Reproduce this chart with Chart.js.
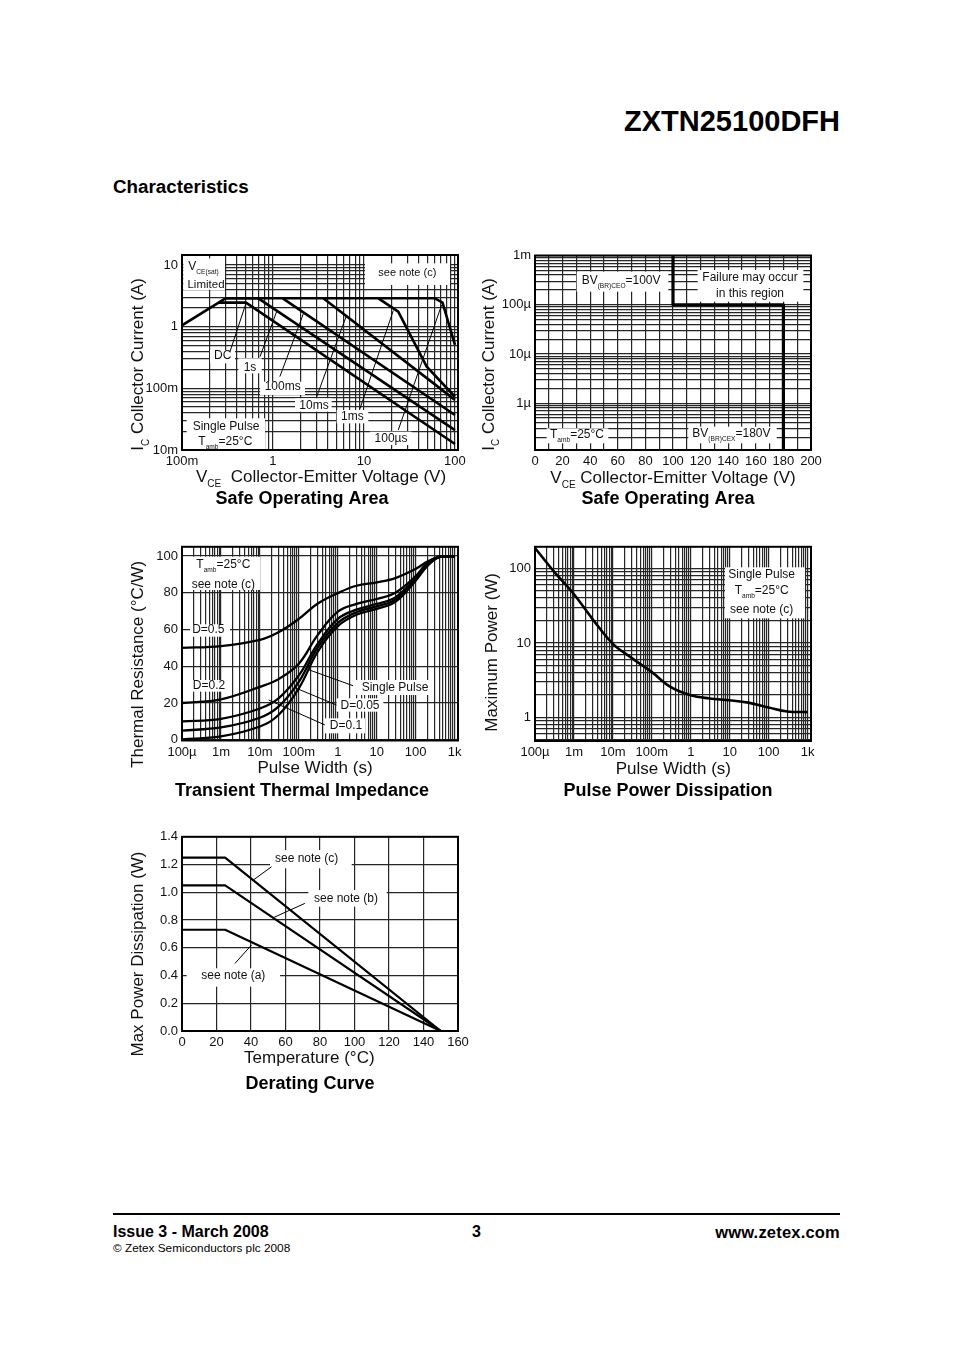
<!DOCTYPE html>
<html><head><meta charset="utf-8">
<style>
html,body{margin:0;padding:0;background:#fff;width:954px;height:1350px;overflow:hidden;font-family:"Liberation Sans",Arial,sans-serif;color:#000}
canvas{position:absolute;display:block}
.t{position:absolute;white-space:nowrap;line-height:1}
</style>
<script src="https://cdn.jsdelivr.net/npm/chart.js@4"></script>
</head><body>
<div class="t" style="right:114px;top:107px;font-size:29px;font-weight:bold">ZXTN25100DFH</div>
<div class="t" style="left:113px;top:178px;font-size:18.8px;font-weight:bold">Characteristics</div>
<div style="position:absolute;left:113px;top:1213px;width:727px;height:2px;background:#000"></div>
<div class="t" style="left:113px;top:1224px;font-size:16px;font-weight:bold">Issue 3 - March 2008</div>
<div class="t" style="left:472px;top:1224px;font-size:16px;font-weight:bold">3</div>
<div class="t" style="right:114px;top:1224px;font-size:16.5px;font-weight:bold;letter-spacing:.2px">www.zetex.com</div>
<div class="t" style="left:113px;top:1243px;font-size:11.8px">© Zetex Semiconductors plc 2008</div>
<canvas id="c1"></canvas><canvas id="c2"></canvas><canvas id="c3"></canvas><canvas id="c4"></canvas><canvas id="c5"></canvas>
<script>
// ---------- Safe Operating Area (V / A)
const soaXTickValues=[0.1,1,10,100], soaXTickLabels=['100m','1','10','100'];
const soaYTickValues=[0.01,0.1,1,10], soaYTickLabels=['10m','100m','1','10'];
const dcV=[0.1,0.253,0.505,100],          dcA=[1.05,2.45,2.45,0.0125];
const s1V=[0.253,0.30,0.69,100],          s1A=[2.45,2.88,2.88,0.021];
const ms100V=[0.30,1.28,100],             ms100A=[2.88,2.88,0.037];
const ms10V=[1.28,3.57,100],              ms10A=[2.88,2.88,0.065];
const ms1V=[3.57,14.4,23.8,48.9,100],     ms1A=[2.88,2.88,1.75,0.224,0.073];
const us100V=[14.4,60.3,73,100],          us100A=[2.88,2.88,2.45,0.505];
const soaLeaderV=[[0.505,0.337],[1.097,0.72],[2.15,1.19],[6.46,3.02],[21,9.04],[71.3,23.8]];
const soaLeaderA=[[2.39,0.394],[1.75,0.327],[1.6,0.155],[1.55,0.073],[1.82,0.047],[2.24,0.021]];
// ---------- Breakdown Safe Operating Area
const bvXTickLabels=['0','20','40','60','80','100','120','140','160','180','200'];
const bvYTickValues=[1e-6,1e-5,1e-4,1e-3], bvYTickLabels=['1µ','10µ','100µ','1m'];
const bvV=[100,100,180,180], bvA=[1e-3,1e-4,1e-4,1.12e-7];
// ---------- Transient Thermal Impedance
const pwTickValues=[1e-4,1e-3,1e-2,0.1,1,10,100,1000], pwTickLabels=['100µ','1m','10m','100m','1','10','100','1k'];
const thYGrid=[0,20,40,60,80,100];
const thYTickLabels=['0','20','40','60','80','100'];
const pw05=[1e-4,1e-3,1e-2,0.03,0.1,0.3,1,3,10,30,100,200,400,1000];
const th05=[50,51,54.4,58.5,65.8,74,79.8,83.8,85.6,88,93,97,99.5,99.7];
const pwN=[1e-4,1e-3,1e-2,0.03,0.1,0.3,1,3,10,30,100,200,400,1000];
const th02=[20,22,28.8,33,41.4,56.8,69.7,73.9,76.6,80,89,96.4,99.5,99.7];
const th01=[10,11.4,17,22.5,35,52,65.8,70.8,73.9,77.5,88,95.5,99.5,99.7];
const th005=[5,6.7,12,18,31.5,50,63.6,69.4,72.6,76.2,87.4,95,99.4,99.7];
const thSingle=[0.2,1.8,7.2,13.5,28,47.7,61.8,68,71.2,75,86.5,94.6,99.3,99.7];
const thLeaderX=[[0.174,2.47],[0.0794,0.925],[0.0168,0.464]];
const thLeaderY=[[38.2,29.4],[28.3,18.9],[21.6,8.1]];
// ---------- Pulse Power Dissipation
const ppYTickValues=[1,10,100], ppYTickLabels=['1','10','100'];
const ppW=[1e-4,3e-4,1e-3,3e-3,1e-2,3e-2,0.1,0.3,1,3,10,30,100,300,1000];
const ppP=[188,92,45,20.9,9.7,6.3,4.06,2.57,1.98,1.8,1.7,1.58,1.36,1.2,1.18];
// ---------- Derating Curve
const drXTickLabels=['0','20','40','60','80','100','120','140','160'];
const drYTickLabels=['0.0','0.2','0.4','0.6','0.8','1.0','1.2','1.4'];
const drT=[0,25,150];
const drC=[1.25,1.25,0], drB=[1.05,1.05,0], drA=[0.73,0.73,0];
const drLeaderT=[[41.3,51.9],[53.3,71.2],[40.3,30.7]];
const drLeaderP=[[1.088,1.184],[0.819,0.92],[0.62,0.487]];

const FONT='"Liberation Sans",Arial,sans-serif';
const specs=new WeakMap();
const pts=(xs,ys)=>xs.map((x,i)=>({x,y:ys[i]}));
const curve=(xs,ys,w,smooth)=>({data:pts(xs,ys),borderColor:'#000',borderWidth:w,pointRadius:0,fill:false,
  tension:smooth?0.38:0,borderJoinStyle:'round',yAxisID:'y'});
const logGrid=(a,b)=>{const o=[];for(let e=a;e<=b;e++)for(let d=1;d<=9;d++)o.push(+(d+'e'+e));return o;};
const labelFrom=(vals,labs)=>v=>{const i=vals.findIndex(t=>Math.abs(v/t-1)<1e-6);return i<0?'':labs[i];};

function drawRuns(ctx,x,y,runs,o){
  o=o||{};const size=o.size||12,rot=o.rot||0,align=o.align||'center';
  ctx.save();ctx.textBaseline='middle';ctx.textAlign='left';ctx.fillStyle='#111';
  const fs=r=>(r.sub?(o.subSize||size*0.55):size)+'px '+FONT;
  let w=0;runs.forEach(r=>{ctx.font=fs(r);w+=ctx.measureText(r.t).width;});
  ctx.translate(x,y);if(rot)ctx.rotate(rot);
  let cx=align==='center'?-w/2:0;
  runs.forEach(r=>{ctx.font=fs(r);ctx.fillText(r.t,cx,r.sub?size*0.42:0);cx+=ctx.measureText(r.t).width;});
  ctx.restore();
}
const notePlugin={id:'notes',
  beforeDatasetsDraw(ch){const c=ch.ctx,s=specs.get(ch.canvas);c.save();c.fillStyle='#fff';
    const a0=ch.chartArea;c.beginPath();c.rect(a0.left,a0.top,a0.right-a0.left,a0.bottom-a0.top);c.clip();
    (s.boxes||[]).forEach(b=>{const p=s.z(b[0],b[1]),q=s.z(b[2],b[3]);c.fillRect(p[0],p[1],q[0]-p[0],q[1]-p[1]);});
    c.restore();},
  afterDatasetsDraw(ch){const c=ch.ctx,s=specs.get(ch.canvas),a=ch.chartArea;
    c.save();c.strokeStyle='#000';c.lineWidth=2;c.strokeRect(a.left,a.top,a.right-a.left,a.bottom-a.top);c.restore();
    (s.notes||[]).forEach(n=>{const p=s.z(n.x,n.y);drawRuns(c,p[0],p[1],n.runs,n);});}
};
Chart.register(notePlugin);

function make(id,spec){
  const box=spec.box,pl=spec.plot,W=box[2]-box[0],H=box[3]-box[1],TH=18*1.2,side=box[2]-pl[2];
  const cv=document.getElementById(id);cv.width=W;cv.height=H;
  cv.style.left=box[0]+'px';cv.style.top=box[1]+'px';cv.style.width=W+'px';cv.style.height=H+'px';
  spec.z=(a,b)=>[spec.org[0]+a/3-box[0],spec.org[1]+b/3-box[1]];
  specs.set(cv,spec);
  const tickBase={color:'#111',font:{family:FONT,size:13},autoSkip:false,maxRotation:0,minRotation:0};
  const axis=(ax,isX)=>{
    const t={type:ax.type,min:ax.min,max:ax.max,
      grid:{color:'#262626',lineWidth:1.2,drawTicks:false,tickLength:0},border:{display:false},
      ticks:Object.assign({},tickBase,ax.ticks||{},{padding:4}),
      afterFit:s=>{if(isX)s.height=(box[3]-TH)-pl[3];else s.width=pl[0]-box[0];}};
    if(ax.grid)t.afterBuildTicks=s=>{s.ticks=ax.grid.filter(v=>v>=Math.min(ax.min,ax.min*0.999)&&v<=ax.max*1.001).map(v=>({value:v}));};
    return t;};
  const margin={type:'linear',position:'right',min:0,max:1,grid:{display:false},border:{display:false},
    ticks:{display:false},afterFit:s=>{s.width=side;}};
  return new Chart(cv,{type:'line',data:{datasets:spec.datasets},options:{
    responsive:false,animation:false,devicePixelRatio:1,
    layout:{padding:{left:0,top:pl[1]-box[1],right:0,bottom:0}},
    plugins:{legend:{display:false},tooltip:{enabled:false},
      title:{display:true,position:'bottom',text:spec.title,color:'#000',padding:0,font:{family:FONT,size:18,weight:'bold',lineHeight:1.2}}},
    scales:{x:axis(spec.x,true),y:axis(spec.y,false),rightMargin:margin}}});
}
const thin=(xs,ys)=>xs.map((x,i)=>curve(x,ys[i],1));
const TXT=(t,sub)=>({t,sub});
const up=-Math.PI/2;

make('c1',{title:'Safe Operating Area',box:[124,240,480,510],plot:[182,255,458,450],org:[120,240],
  x:{type:'logarithmic',min:0.1,max:108,grid:logGrid(-1,2),ticks:{callback:labelFrom(soaXTickValues,soaXTickLabels)}},
  y:{type:'logarithmic',min:0.01,max:14.5,grid:logGrid(-2,1),ticks:{callback:labelFrom(soaYTickValues,soaYTickLabels)}},
  datasets:[curve(dcV,dcA,2.6),curve(s1V,s1A,2.6),curve(ms100V,ms100A,2.6),curve(ms10V,ms10A,2.6),curve(ms1V,ms1A,2.6),curve(us100V,us100A,2.6),...thin(soaLeaderV,soaLeaderA)],
  boxes:[[190,55,315,150],[735,70,990,135],[270,330,345,370],[355,355,425,400],[420,425,555,465],[525,475,635,515],[650,510,745,550],[750,575,875,615],[200,535,435,630]],
  notes:[
   {x:205,y:80,align:'left',runs:[TXT('V'),TXT('CE(sat)',1)]},{x:258,y:133,runs:[TXT('Limited')],size:11.5},
   {x:862,y:100,runs:[TXT('see note (c)')],size:11},{x:308,y:348,runs:[TXT('DC')]},{x:390,y:383,runs:[TXT('1s')]},
   {x:488,y:440,runs:[TXT('100ms')]},{x:582,y:497,runs:[TXT('10ms')]},{x:697,y:530,runs:[TXT('1ms')]},{x:813,y:597,runs:[TXT('100µs')]},
   {x:318,y:560,runs:[TXT('Single Pulse')]},{x:235,y:605,align:'left',runs:[TXT('T'),TXT('amb',1),TXT('=25°C')]},
   {x:228,y:712,align:'left',size:17,subSize:10,runs:[TXT('V'),TXT('CE',1),TXT('  Collector-Emitter Voltage (V)')]},
   {x:56,y:632,align:'left',rot:up,size:17,subSize:10,runs:[TXT('I'),TXT('C',1),TXT(' Collector Current (A)')]}]});

make('c2',{title:'Safe Operating Area',box:[478,240,858,510],plot:[535,255.5,811,450],org:[475,240],
  x:{type:'linear',min:0,max:200,ticks:{stepSize:10,callback:v=>v%20===0?bvXTickLabels[v/20]:''}},
  y:{type:'logarithmic',min:1.12e-7,max:1e-3,grid:logGrid(-7,-3),ticks:{callback:labelFrom(bvYTickValues,bvYTickLabels)}},
  datasets:[curve(bvV,bvA,3.2)],
  boxes:[[305,95,580,155],[668,90,985,185],[215,565,400,610],[640,560,905,610]],
  notes:[
   {x:320,y:122,align:'left',runs:[TXT('BV'),TXT('(BR)CEO',1),TXT('=100V')]},
   {x:825,y:113,runs:[TXT('Failure may occur')]},{x:825,y:160,runs:[TXT('in this region')]},
   {x:225,y:585,align:'left',runs:[TXT('T'),TXT('amb',1),TXT('=25°C')]},
   {x:652,y:582,align:'left',runs:[TXT('BV'),TXT('(BR)CEX',1),TXT('=180V')]},
   {x:226,y:714,align:'left',size:17,subSize:10,runs:[TXT('V'),TXT('CE',1),TXT(' Collector-Emitter Voltage (V)')]},
   {x:42,y:632,align:'left',rot:up,size:17,subSize:10,runs:[TXT('I'),TXT('C',1),TXT(' Collector Current (A)')]}]});

make('c3',{title:'Transient Thermal Impedance',box:[124,535,480,802],plot:[182,545.5,458,740.5],org:[120,535],
  x:{type:'logarithmic',min:1e-4,max:1218,grid:logGrid(-4,3),ticks:{callback:labelFrom(pwTickValues,pwTickLabels)}},
  y:{type:'linear',min:-0.4,max:105,grid:thYGrid,ticks:{callback:v=>thYTickLabels[v/20]}},
  datasets:[curve(pw05,th05,2.3,1),curve(pwN,th02,2.3,1),curve(pwN,th01,2.3,1),curve(pwN,th005,2.3,1),curve(pwN,thSingle,2.3,1),...thin(thLeaderX,thLeaderY)],
  boxes:[[190,65,420,165],[210,268,330,305],[210,435,325,470],[700,435,940,480],[650,490,790,530],[615,550,735,595]],
  notes:[
   {x:310,y:90,runs:[TXT('T'),TXT('amb',1),TXT('=25°C')]},{x:310,y:148,runs:[TXT('see note (c)')]},
   {x:265,y:285,runs:[TXT('D=0.5')]},{x:267,y:452,runs:[TXT('D=0.2')]},{x:825,y:458,runs:[TXT('Single Pulse')]},
   {x:720,y:512,runs:[TXT('D=0.05')]},{x:678,y:572,runs:[TXT('D=0.1')]},
   {x:585,y:700,size:17,runs:[TXT('Pulse Width (s)')]},
   {x:56,y:388,rot:up,size:17,runs:[TXT('Thermal Resistance (°C/W)')]}]});

make('c4',{title:'Pulse Power Dissipation',box:[478,535,858,802],plot:[535,545.5,811,741],org:[475,535],
  x:{type:'logarithmic',min:1e-4,max:1218,grid:logGrid(-4,3),ticks:{callback:labelFrom(pwTickValues,pwTickLabels)}},
  y:{type:'logarithmic',min:0.483,max:195,grid:logGrid(-1,2),ticks:{callback:labelFrom(ppYTickValues,ppYTickLabels)}},
  datasets:[curve(ppW,ppP,2.6,1)],
  boxes:[[750,97,990,250]],
  notes:[
   {x:860,y:120,runs:[TXT('Single Pulse')]},{x:860,y:168,runs:[TXT('T'),TXT('amb',1),TXT('=25°C')]},{x:860,y:225,runs:[TXT('see note (c)')]},
   {x:595,y:702,size:17,runs:[TXT('Pulse Width (s)')]},
   {x:52,y:352,rot:up,size:17,runs:[TXT('Maximum Power (W)')]}]});

make('c5',{title:'Derating Curve',box:[124,825,496,1095],plot:[182,836.5,458,1031],org:[120,825],
  x:{type:'linear',min:0,max:160,ticks:{stepSize:20,callback:v=>drXTickLabels[v/20]}},
  y:{type:'linear',min:0,max:1.4,ticks:{stepSize:0.2,callback:v=>drYTickLabels[Math.round(v/0.2)]}},
  datasets:[curve(drT,drC,2.2),curve(drT,drB,2.2),curve(drT,drA,2.2),...thin(drLeaderT,drLeaderP)],
  boxes:[[450,75,695,130],[565,195,800,245],[200,430,480,485]],
  notes:[
   {x:560,y:100,runs:[TXT('see note (c)')]},{x:678,y:222,runs:[TXT('see note (b)')]},{x:340,y:452,runs:[TXT('see note (a)')]},
   {x:568,y:700,size:17,runs:[TXT('Temperature (°C)')]},
   {x:56,y:387,rot:up,size:17,runs:[TXT('Max Power Dissipation (W)')]}]});
</script>
</body></html>
